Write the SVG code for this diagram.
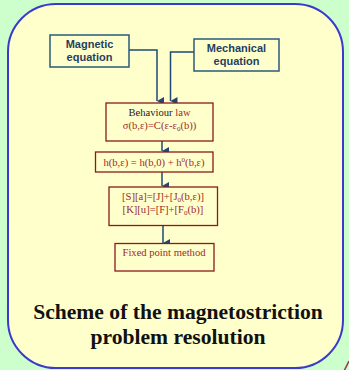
<svg xmlns="http://www.w3.org/2000/svg" width="349" height="370" viewBox="0 0 349 370">
<defs>
<marker id="ah" markerWidth="8" markerHeight="8" refX="4" refY="7" orient="auto-start-reverse" markerUnits="userSpaceOnUse" viewBox="0 0 8 8">
<path d="M0,0 L8,0 L4,7 Z" fill="#1f4878"/>
</marker>
<style>
.bb{fill:#ffffcc;stroke:#2a5a7a;stroke-width:1.5}
.rb{fill:#ffffcc;stroke:#8b1a1a;stroke-width:1.3}
.bt{font-family:"Liberation Sans",Arial,sans-serif;font-weight:bold;font-size:11px;fill:#1f4060;text-anchor:middle}
.rt{font-family:"Liberation Serif","Times New Roman",serif;font-size:10.6px;fill:#9b2b2b;text-anchor:middle}
.cn{fill:none;stroke:#1f4878;stroke-width:1.5}
.tt{font-family:"Liberation Serif","Times New Roman",serif;font-weight:bold;font-size:21.6px;fill:#111;text-anchor:middle}
</style>
</defs>
<rect width="349" height="370" fill="#ccffcc"/>
<path d="M344,371 L349,361" stroke="#993355" stroke-width="1.5" fill="none"/>
<rect x="8" y="4" width="335" height="364" rx="48" ry="48" fill="#ffffcc" stroke="#3a3acc" stroke-width="2"/>
<g id="connectors">
<path class="cn" d="M129,50 H157 V101" marker-end="url(#ah)"/>
<path class="cn" d="M194,52 H170.5 V101" marker-end="url(#ah)"/>
<path class="cn" d="M162,141 V151" marker-end="url(#ah)"/>
<path class="cn" d="M162,172 V186" marker-end="url(#ah)"/>
<path class="cn" d="M163,226 V243" marker-end="url(#ah)"/>
</g>
<g id="magnetic">
<rect class="bb" x="50" y="35" width="79" height="32"/>
<text class="bt" x="89.5" y="48">Magnetic</text>
<text class="bt" x="89.5" y="61">equation</text>
</g>
<g id="mechanical">
<rect class="bb" x="194" y="39" width="85" height="32"/>
<text class="bt" x="236.5" y="52">Mechanical</text>
<text class="bt" x="236.5" y="65">equation</text>
</g>
<g id="behaviour">
<rect class="rb" x="106" y="103" width="107" height="38"/>
<text class="rt" x="159.5" y="116"><tspan fill="#222">Behaviour</tspan> law</text>
<text class="rt" x="159.5" y="129">σ(b,ε)=C(ε-ε<tspan font-size="7" dy="2">0</tspan><tspan dy="-2">(b))</tspan></text>
</g>
<g id="hfield">
<rect class="rb" x="95.5" y="152" width="117.5" height="20"/>
<text class="rt" x="154" y="165.5">h(b,ε) = h(b,0) + h<tspan font-size="7" dy="-4">0</tspan><tspan dy="4">(b,ε)</tspan></text>
</g>
<g id="system">
<rect class="rb" x="109" y="187" width="108.5" height="38.5"/>
<text class="rt" x="163" y="200">[S][a]=[J]+[J<tspan font-size="7" dy="2">0</tspan><tspan dy="-2">(b,ε)]</tspan></text>
<text class="rt" x="163" y="213">[K][u]=[F]+[F<tspan font-size="7" dy="2">0</tspan><tspan dy="-2">(b)]</tspan></text>
</g>
<g id="fixedpoint">
<rect class="rb" x="115" y="243.5" width="99" height="27.5"/>
<text class="rt" x="164" y="256">Fixed point method</text>
</g>
<g id="title">
<text class="tt" x="178" y="319">Scheme of the magnetostriction</text>
<text class="tt" x="178" y="344">problem resolution</text>
</g>
</svg>
